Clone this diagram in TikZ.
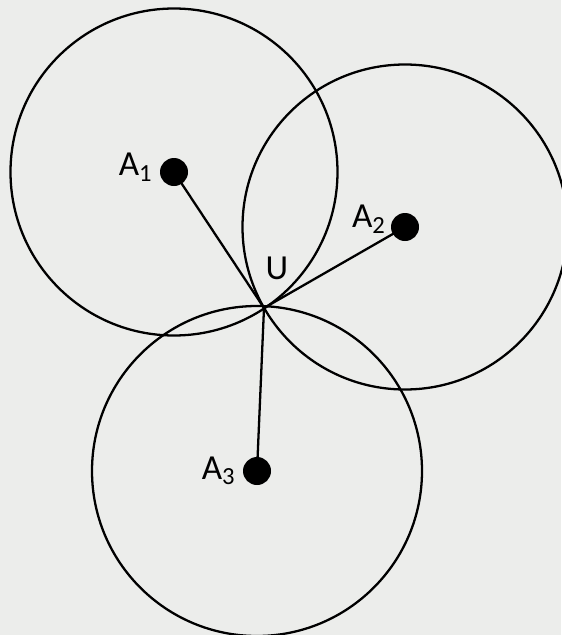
\documentclass[tikz,border=0pt]{standalone}
\usepackage{fontspec}
\setmainfont{Carlito}
\usepackage{tikz}
\usetikzlibrary{positioning}
\definecolor{paper}{RGB}{236,237,235}

\begin{document}
\begin{tikzpicture}[font=\fontsize{20}{24}\selectfont]

  \tikzset{
    anchorpt/.style={circle, fill=black, inner sep=0pt, minimum size=0.56cm},
    ring/.style={line width=1.3pt},
    spoke/.style={line width=1.3pt},
    ptlabel/.style={inner sep=1pt}
  }

  % page
  \fill[paper] (0,0) rectangle (11.22,-12.7);
  \useasboundingbox (0,0) rectangle (11.22,-12.7);

  % centres and common point
  \node[anchorpt] (a1) at (3.48, -3.44) {};
  \node[anchorpt] (a2) at (8.10, -4.54) {};
  \node[anchorpt] (a3) at (5.14, -9.42) {};
  \coordinate (u) at (5.28, -6.16);

  % circles through U
  \draw[ring] (a1.center) circle[radius=3.27];
  \draw[ring] (a2.center) circle[radius=3.25];
  \draw[ring] (a3.center) circle[radius=3.30];

  \draw[spoke] (a1.center) -- (u);
  \draw[spoke] (a2.center) -- (u);
  \draw[spoke] (a3.center) -- (u);

  \node[ptlabel, left=0.1cm of a1, yshift=0.1cm] (l1) {A\textsubscript{1}};
  \node[ptlabel] (l2) at (7.38, -4.38) {A\textsubscript{2}};
  \node[ptlabel, left=0.1cm of a3] (l3) {A\textsubscript{3}};
  \node[ptlabel] (lu) at (5.54, -5.36) {U};

\end{tikzpicture}
\end{document}
